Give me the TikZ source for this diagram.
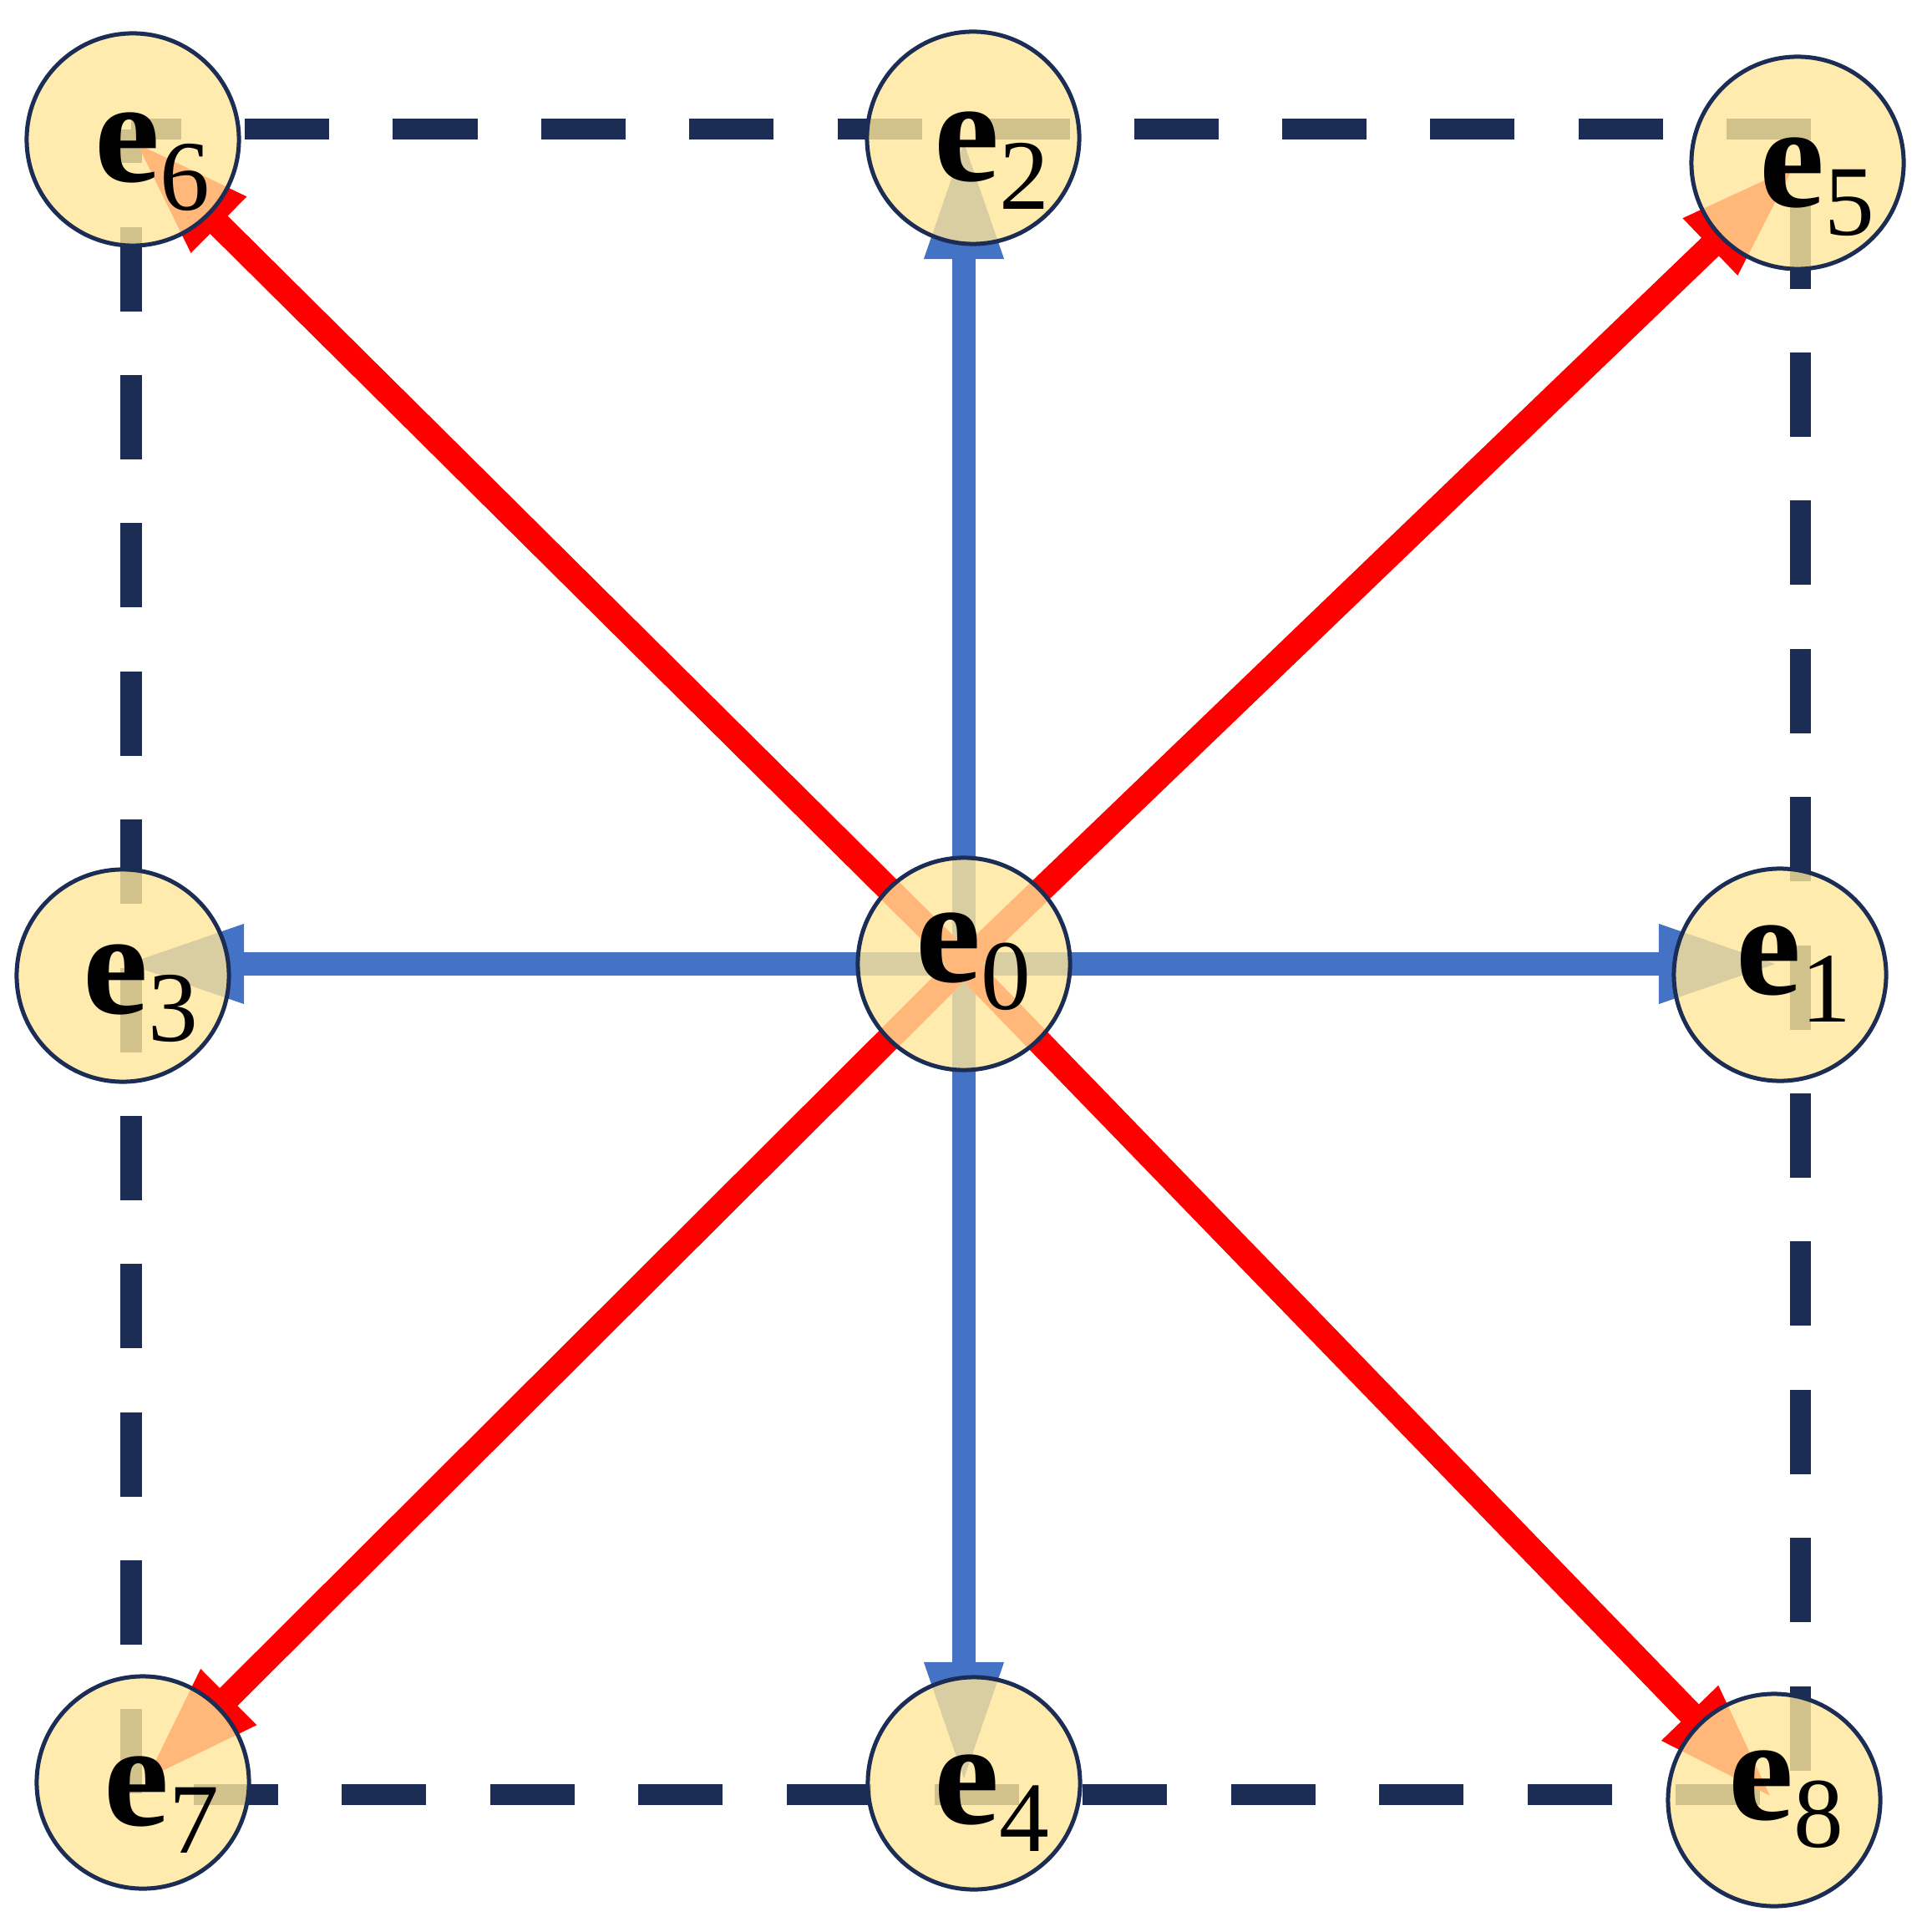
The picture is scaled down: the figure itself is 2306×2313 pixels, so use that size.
\documentclass[tikz,border=0pt]{standalone}
\usepackage{fontspec}
\setmainfont{Liberation Serif}
\usetikzlibrary{arrows.meta}
\pgfdeclarelayer{bg}
\pgfsetlayers{bg,main}
\definecolor{navy}{RGB}{28,45,85}
\definecolor{nodefill}{RGB}{255,230,153}
\definecolor{arrblue}{RGB}{68,114,196}
\definecolor{arrred}{RGB}{255,0,0}
\newcommand{\elab}[1]{{\fontsize{50}{50}\selectfont\bfseries e}\raisebox{-0.33cm}{\fontsize{34}{34}\selectfont #1}}
\begin{document}
\begin{tikzpicture}[x=0.01cm,y=-0.01cm,
  vert/.style={circle, draw=navy, line width=0.05cm, fill=nodefill, fill opacity=0.8, minimum size=2.54cm, inner sep=0pt},
  lab/.style={anchor=base west, inner sep=0pt, text=black},
  bluearr/.style={draw=arrblue, line width=0.28cm, -{Triangle[length=1.45cm,width=0.87cm]}},
  redarr/.style={draw=arrred, line width=0.30cm, -{Triangle[length=1.45cm,width=0.85cm]}},
  gridline/.style={draw=navy, line width=0.25cm, dash pattern=on 1.01cm off 0.763cm, dash phase=0.413cm}]
\useasboundingbox (0,0) rectangle (2306,2313);
% vertices
\node[vert] (e0) at (1154,1154) {};
\node[vert] (e1) at (2131,1167) {};
\node[vert] (e2) at (1165,165) {};
\node[vert] (e3) at (147,1168) {};
\node[vert] (e4) at (1166,2135) {};
\node[vert] (e5) at (2152,195) {};
\node[vert] (e6) at (159,167) {};
\node[vert] (e7) at (171,2134) {};
\node[vert] (e8) at (2124,2155) {};
% labels
\node[lab] (l0) at (1096,1175) {\elab{0}};
\node[lab] (l1) at (2078,1190) {\elab{1}};
\node[lab] (l2) at (1118,217) {\elab{2}};
\node[lab] (l3) at (99,1213) {\elab{3}};
\node[lab] (l4) at (1118,2183) {\elab{4}};
\node[lab] (l5) at (2106,248) {\elab{5}};
\node[lab] (l6) at (113,218) {\elab{6}};
\node[lab] (l7) at (124,2185) {\elab{7}};
\node[lab] (l8) at (2069,2178) {\elab{8}};
\begin{pgfonlayer}{bg}
\coordinate (c1) at (157,155);
\coordinate (c2) at (2155,155);
\coordinate (c3) at (2155,2148);
\coordinate (c4) at (157,2148);
\draw[gridline] (c1) -- (c2) -- (c3) -- (c4) -- cycle;
\draw[bluearr] (e0.center) -- (e0.center -| e1.center);
\draw[bluearr] (e0.center) -- (e0.center |- e2.center);
\draw[bluearr] ([xshift=-1pt]e0.center) -- (e0.center -| e3.center);
\draw[bluearr] (e0.center) -- (e0.center |- e4.center);
\draw[redarr] (e0.center) -- (e5.center);
\draw[redarr] (e0.center) -- (e6.center);
\draw[redarr] (e0.center) -- (e7.center);
\draw[redarr] (e0.center) -- (e8.center);
\end{pgfonlayer}
\end{tikzpicture}
\end{document}
